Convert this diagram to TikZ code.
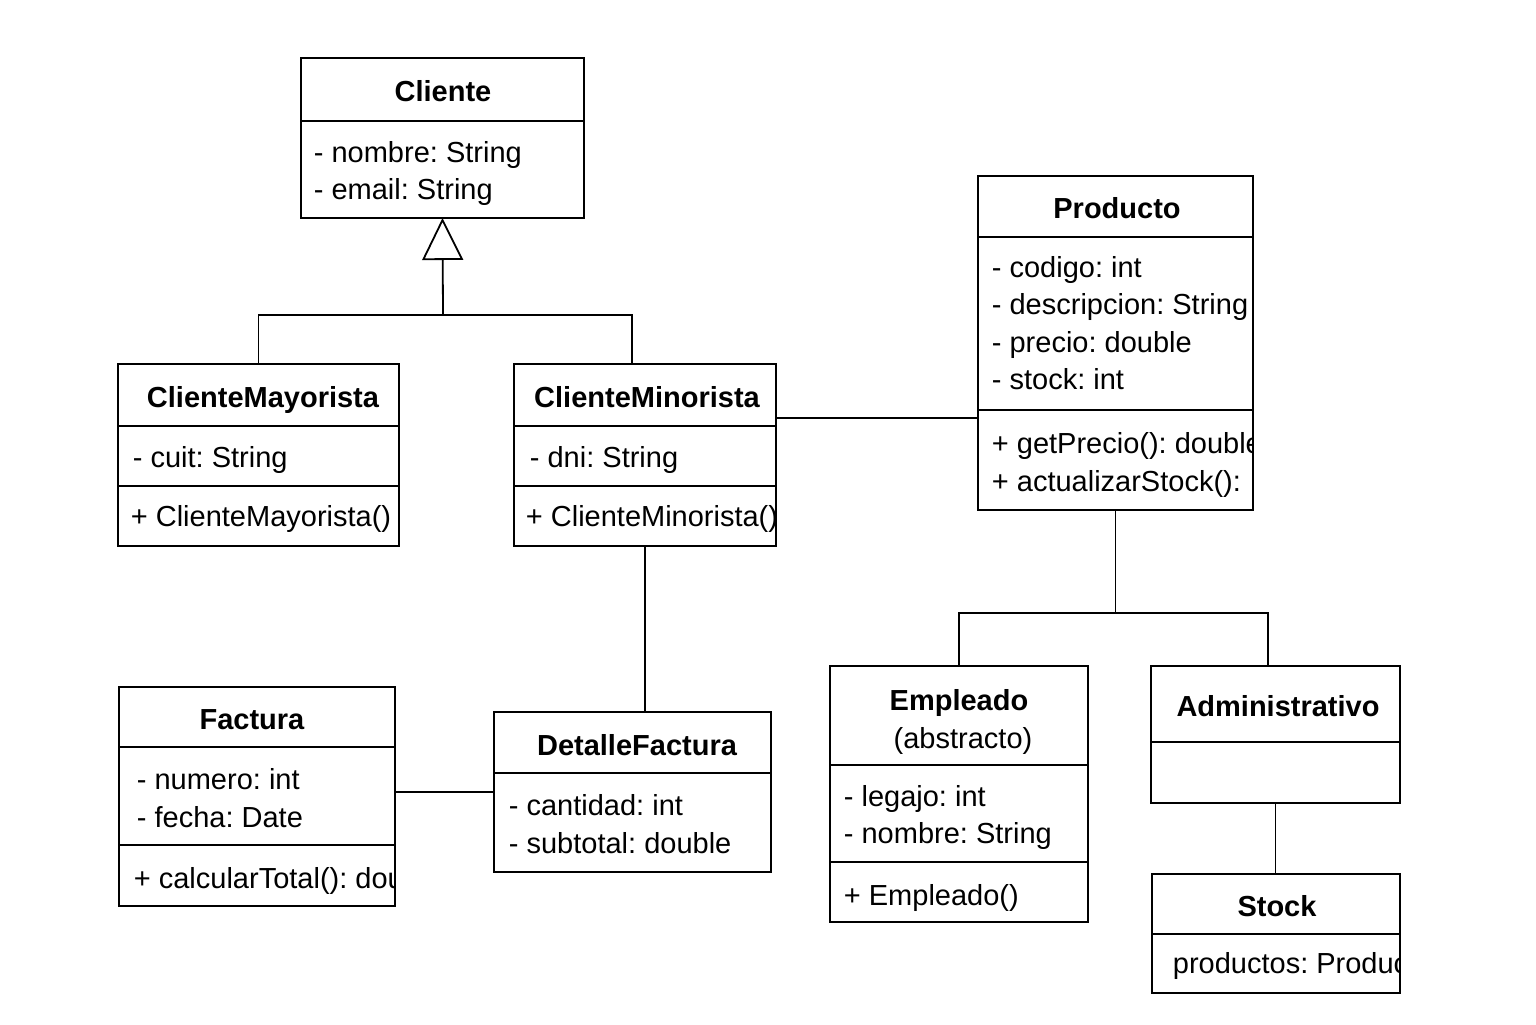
\documentclass[tikz,border=0pt]{standalone}
\usepackage{fontspec}
\setmainfont{Liberation Sans}
\usetikzlibrary{arrows.meta,fit}
\frenchspacing
\begin{document}
\begin{tikzpicture}[x=0.5pt,y=-0.5pt,line width=0.9pt,
		font=\fontsize{14.5}{17}\selectfont,
		classbox/.style={draw,inner sep=0pt,outer sep=0pt},
		title/.style={font=\fontsize{14.5}{17}\selectfont\bfseries,inner sep=0pt,text height=0.72em,text depth=0pt,yshift=-1.5pt},
		member/.style={anchor=west,inner sep=0pt,text height=0.72em,text depth=0pt,yshift=-1.5pt}]
		 	\useasboundingbox (0,0) rectangle (1536,1024);

		 	% boxes
		 	\node[classbox,fit={(301,58) (584,218)}] (cliente) {};
		 	\node[classbox,fit={(118,364) (399,546)}] (mayorista) {};
		 	\node[classbox,fit={(514,364) (776,546)}] (minorista) {};
		 	\node[classbox,fit={(978,176) (1253,510)}] (producto) {};
		 	\node[classbox,fit={(830,666) (1088,922)}] (empleado) {};
		 	\node[classbox,fit={(1151,666) (1400,803)}] (admin) {};
		 	\node[classbox,fit={(1152,874) (1400,993)}] (stock) {};
		 	\node[classbox,fit={(494,712) (771,872)}] (detalle) {};
		 	\node[classbox,fit={(119,687) (395,906)}] (factura) {};

		 	% compartments
		 	\draw(301, 121) to (584, 121);
		 		\draw(118, 426) to (399, 426);
		 		\draw(118, 486) to (399, 486);
		 		\draw(514, 426) to (776, 426);
		 		\draw(514, 486) to (776, 486);
		 	\draw(978, 237) to (1253, 237);
		 		\draw(978, 410) to (1253, 410);
		 	\draw(830, 765) to (1088, 765);
		 		\draw(830, 862) to (1088, 862);
		 	\draw(1151, 742) to (1400, 742);
		 	\draw(1152, 934) to (1400, 934);
		 	\draw(494, 773) to (771, 773);
		 	\draw(119, 747) to (395, 747);
		 		\draw(119, 845) to (395, 845);

		 	% connectors
		 	\coordinate (genjoin) at (443, 315);
		 	\draw (mayorista.north) |- (genjoin) -| ([xshift=-6.5pt]minorista.north);
		 	\draw[-{Triangle[open,length=21pt,width=20.5pt]}] (genjoin) to (cliente.south);
		 	\draw ([yshift=18.5pt]minorista.east) coordinate (mp) to (mp -| producto.west);
		 	\coordinate (prodjoin) at (1115.5, 613);
		 	\draw (producto.south) to (prodjoin);
		 	\draw (empleado.north) |- (prodjoin) -| ([xshift=-3.75pt]admin.north);
		 	\draw (admin.south) to (admin.south |- stock.north);
		 	\draw (minorista.south) to (minorista.south |- detalle.north);
		 	\draw (detalle.west) to (detalle.west -| factura.east);

			 % titles
			 \node[title] at(443, 91){Cliente};
			 \node[title] at(263, 397){ClienteMayorista};
			 \node[title] at(647, 397){ClienteMinorista};
			 \node[title] at(1117, 208){Producto};
			 \node[title] at(959, 700){Empleado};
			 \node[member,anchor=center] at(963, 738){(abstracto)};
			 \node[title] at(1278, 706){Administrativo};
			 \node[title] at(1277, 906){Stock};
			 \node[title] at(637, 745){DetalleFactura};
			 \node[title] at(252, 719){Factura};

			 % members
			 \node[member] at(313, 152){- nombre: String};
			 \node[member] at(313, 189){- email: String};
			 \node[member] at(132, 457){- cuit: String};
			 \node[member] at(130, 516){+ ClienteMayorista()};
			 \node[member] at(529, 457){- dni: String};
			 \node[member] at(525, 516){+ ClienteMinorista()};
			 \node[member] at(843, 796){- legajo: int};
			 \node[member] at(843, 833){- nombre: String};
			 \node[member] at(843, 895){+ Empleado()};
			 \node[member] at(508, 805){- cantidad: int};
			 \node[member] at(508, 843){- subtotal: double};
			 \node[member] at(136, 779){- numero: int};
			 \node[member] at(136, 817){- fecha: Date};

			 \begin{scope}
			 \clip (producto.south west) rectangle (producto.north east);
			 \node[member] at(991, 267){- codigo: int};
			 \node[member] at(991, 304){- descripcion: String};
			 \node[member] at(991, 342){- precio: double};
			 \node[member] at(991, 379){- stock: int};
			 \node[member] at(991, 443){+ getPrecio(): double};
			 \node[member] at(991, 481){+ actualizarStock():};
			 \end{scope}
			 \begin{scope}
			 \clip (factura.south west) rectangle (factura.north east);
			 \node[member] at(133, 878){+ calcularTotal(): double};
			 \end{scope}
			 \begin{scope}
			 \clip (stock.south west) rectangle (stock.north east);
			 \node[member] at(1172, 963){productos: Producto[]};
			 \end{scope}

		\end{tikzpicture}
\end{document}
